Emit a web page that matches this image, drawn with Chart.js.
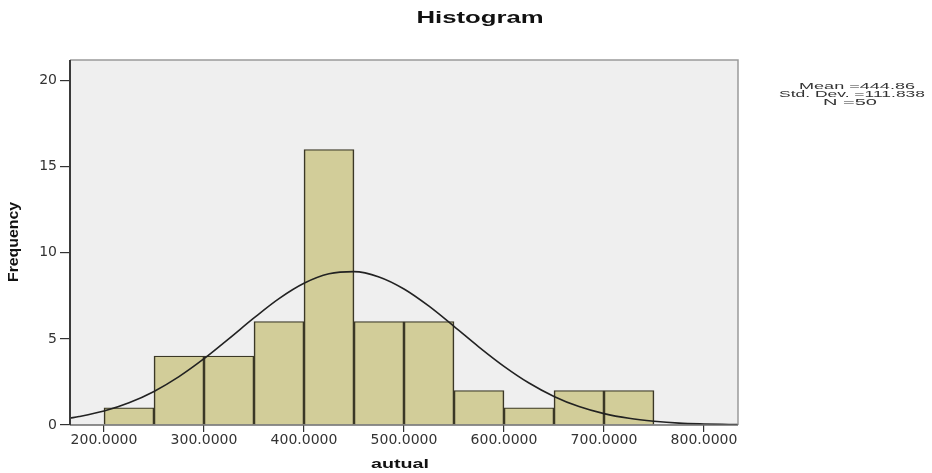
<!DOCTYPE html>
<html>
<head>
<meta charset="utf-8">
<script src="https://cdn.jsdelivr.net/npm/chart.js@4/dist/chart.umd.min.js"></script>
<style>
  html, body { margin: 0; padding: 0; background: #ffffff; }
  canvas { display: block; }
</style>
</head>
<body>
<canvas id="c" width="932" height="473"></canvas>
<script>
// ---- data ----
const binStarts   = [200, 250, 300, 350, 400, 450, 500, 550, 600, 650, 700];
const binWidth    = 50;
const frequencies = [1, 4, 4, 6, 16, 6, 6, 2, 1, 2, 2];
const curveX = [166, 175, 200, 225, 250, 275, 300, 325, 350, 375, 400, 425, 450, 475, 500, 525, 550, 575, 600, 625, 650, 675, 700, 725, 750, 775, 800, 825, 834];
const curveY = [0.40, 0.49, 0.81, 1.29, 1.95, 2.81, 3.85, 5.02, 6.22, 7.34, 8.23, 8.78, 8.91, 8.60, 7.90, 6.90, 5.73, 4.53, 3.41, 2.44, 1.66, 1.07, 0.66, 0.39, 0.22, 0.11, 0.06, 0.03, 0.02];
const xTicks = [200, 300, 400, 500, 600, 700, 800];
const yTicks = [0, 5, 10, 15, 20];
const xRange = [166, 834];
const yRange = [0, 21.2];
const titleText = 'Histogram';
const xTitle = 'autual';
const yTitle = 'Frequency';
const statLines = ['Mean =444.86', 'Std. Dev. =111.838', 'N =50'];

// ---- build ----
const barData = binStarts.map((s, i) => ({ x: s + binWidth / 2, y: frequencies[i] }));
const lineData = curveX.map((x, i) => ({ x: x, y: curveY[i] }));

function fitText(ctx, str, cx, cy, font, w, color, rot) {
  ctx.save();
  ctx.font = font;
  ctx.fillStyle = color;
  ctx.textAlign = 'center';
  ctx.textBaseline = 'middle';
  const nat = ctx.measureText(str).width;
  ctx.translate(cx, cy);
  if (rot) ctx.rotate(rot);
  ctx.scale(w / nat, 1);
  ctx.fillText(str, 0, 0);
  ctx.restore();
}

const decor = {
  id: 'decor',
  beforeDraw(chart) {
    const { ctx, chartArea: a } = chart;
    ctx.save();
    ctx.fillStyle = '#ffffff';
    ctx.fillRect(0, 0, chart.width, chart.height);
    ctx.fillStyle = '#efefef';
    ctx.fillRect(a.left, a.top, a.right - a.left, a.bottom - a.top);
    ctx.restore();
  },
  afterDatasetsDraw(chart) {
    const { ctx, chartArea: a } = chart;
    ctx.save();
    ctx.strokeStyle = '#9a9a9a';
    ctx.lineWidth = 1.5;
    ctx.beginPath();
    ctx.moveTo(a.left, a.top); ctx.lineTo(a.right, a.top); ctx.lineTo(a.right, a.bottom);
    ctx.stroke();
    ctx.strokeStyle = '#6a6a6a';
    ctx.lineWidth = 1.5;
    ctx.beginPath();
    ctx.moveTo(a.left, a.bottom); ctx.lineTo(a.right, a.bottom);
    ctx.stroke();
    ctx.strokeStyle = '#3a3a3a';
    ctx.lineWidth = 2;
    ctx.beginPath();
    ctx.moveTo(a.left, a.top); ctx.lineTo(a.left, a.bottom);
    ctx.stroke();
    ctx.restore();
  },
  afterDraw(chart) {
    const ctx = chart.ctx;
    fitText(ctx, titleText, 480, 19, 'bold 16px "Liberation Sans", Arial, sans-serif', 127, '#111');
    fitText(ctx, yTitle, 14, 242, 'bold 14px "Liberation Sans", Arial, sans-serif', 80, '#111', -Math.PI / 2);
    fitText(ctx, xTitle, 400, 464, 'bold 13px "Liberation Sans", Arial, sans-serif', 58, '#111');
    const sx = [857, 852, 850], sy = [86.5, 94.4, 102.3], sw = [116, 146, 54];
    statLines.forEach((t, i) => fitText(ctx, t, sx[i], sy[i], '9px "Liberation Sans", Arial, sans-serif', sw[i], '#333'));
  }
};

new Chart(document.getElementById('c'), {
  data: {
    datasets: [
      {
        type: 'line',
        data: lineData,
        borderColor: '#222222',
        borderWidth: 1.6,
        pointRadius: 0,
        fill: false,
        cubicInterpolationMode: 'monotone',
        order: 0
      },
      {
        type: 'bar',
        data: barData,
        backgroundColor: '#d2cd99',
        borderColor: '#3b3826',
        borderWidth: { left: 1.6, right: 1.6, top: 1.2, bottom: 0 },
        borderSkipped: false,
        barPercentage: 1.0,
        categoryPercentage: 1.0,
        order: 1
      }
    ]
  },
  options: {
    responsive: false,
    animation: false,
    events: [],
    layout: { padding: { left: 0, right: 194, top: 60, bottom: 18 } },
    plugins: { legend: { display: false }, title: { display: false }, tooltip: { enabled: false } },
    scales: {
      x: {
        type: 'linear',
        offset: false,
        min: xRange[0],
        max: xRange[1],
        afterFit(s) { s.height = 30; },
        afterBuildTicks(s) { s.ticks = xTicks.map(v => ({ value: v })); },
        grid: { display: true, offset: false, drawOnChartArea: false, drawTicks: true, tickLength: 7, color: '#333', lineWidth: 1.2 },
        border: { display: false },
        ticks: {
          padding: 0,
          maxRotation: 0,
          autoSkip: false,
          color: '#333',
          font: { family: '"DejaVu Sans", sans-serif', size: 14 },
          callback: v => Number(v).toFixed(4)
        }
      },
      y: {
        type: 'linear',
        min: yRange[0],
        max: yRange[1],
        afterFit(s) { s.width = 70; },
        afterBuildTicks(s) { s.ticks = yTicks.map(v => ({ value: v })); },
        grid: { display: true, drawOnChartArea: false, drawTicks: true, tickLength: 10, color: '#333', lineWidth: 1.2 },
        border: { display: false },
        ticks: {
          padding: 3,
          autoSkip: false,
          color: '#333',
          font: { family: '"DejaVu Sans", sans-serif', size: 14 },
          callback: v => String(v)
        }
      }
    }
  },
  plugins: [decor]
});
</script>
</body>
</html>
